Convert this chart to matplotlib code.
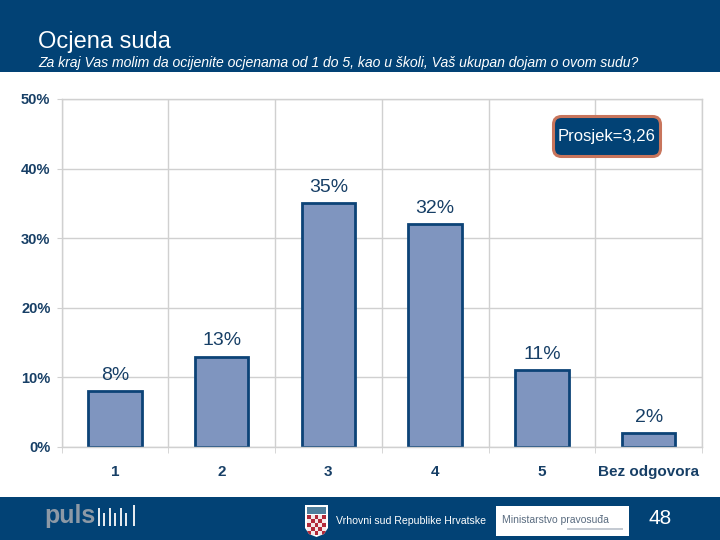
import numpy as np
import matplotlib
matplotlib.use('Agg')
import matplotlib.pyplot as plt
from matplotlib.patches import Rectangle, FancyBboxPatch, Polygon

categories = ['1', '2', '3', '4', '5', 'Bez odgovora']
values = [8, 13, 35, 32, 11, 2]
value_labels = ['8%', '13%', '35%', '32%', '11%', '2%']
yticks = [0, 10, 20, 30, 40, 50]

navy = '#024275'
bar_face = '#7f95bf'
bar_edge = '#0c4377'
text_col = '#173f66'
grid_col = '#d0d0d0'

W, H = 720, 540
plt.rcParams['font.family'] = ['Liberation Sans', 'DejaVu Sans']
fig = plt.figure(figsize=(7.2, 5.4), dpi=100, facecolor='white')

# pozadina za zaglavlje i podnozje, koordinate u pikselima
bg = fig.add_axes([0, 0, 1, 1])
bg.set_xlim(0, W)
bg.set_ylim(H, 0)
bg.axis('off')
bg.add_patch(Rectangle((0, 0), W, 72, fc=navy, ec='none'))
bg.add_patch(Rectangle((0, 497), W, 43, fc=navy, ec='none'))
bg.text(38, 48, 'Ocjena suda', color='white', fontsize=17, va='baseline', ha='left')
bg.text(38, 67, 'Za kraj Vas molim da ocijenite ocjenama od 1 do 5, kao u školi, Vaš ukupan dojam o ovom sudu?',
        color='white', fontsize=10.1, style='italic', va='baseline', ha='left')

# ==============================
# graf
# ==============================
left, right, top, bottom = 61.5, 702, 99, 447
ax = fig.add_axes([left / W, 1 - bottom / H, (right - left) / W, (bottom - top) / H])
x = np.arange(len(categories))
ax.bar(x, values, width=0.5, color=bar_face, edgecolor=bar_edge, linewidth=2, zorder=2)
ax.set_xlim(-0.5, 5.5)
ax.set_ylim(0, 50)
ax.set_yticks(yticks)
ax.set_yticklabels([f'{t}%' for t in yticks], fontsize=10.5, fontweight='bold', color=text_col)
ax.set_xticks(x)
ax.set_xticklabels(categories, fontsize=11, fontweight='bold', color=text_col)
ax.set_xticks(np.arange(-0.5, 6), minor=True)
ax.tick_params(axis='x', which='major', length=0, pad=13)
ax.tick_params(axis='x', which='minor', length=4.5, color=grid_col)
ax.tick_params(axis='y', length=3.5, color=grid_col, pad=4.5)
ax.set_axisbelow(True)
ax.grid(True, axis='y', color=grid_col, linewidth=1)
ax.grid(True, axis='x', which='minor', color=grid_col, linewidth=1)
for s in ax.spines.values():
    s.set_color(grid_col)
    s.set_linewidth(1)
for xi, v, lab in zip(x, values, value_labels):
    ax.text(xi, v + 2.3, lab, ha='center', va='center', fontsize=14, color=text_col, zorder=4)

# okvir s prosjekom i podnozje idu iznad grafa
fg = fig.add_axes([0, 0, 1, 1], facecolor='none')
fg.set_xlim(0, W)
fg.set_ylim(H, 0)
fg.axis('off')
fg.add_patch(FancyBboxPatch((553.5, 116.5), 107, 40, boxstyle='round,pad=0,rounding_size=8',
                            fc=navy, ec='#c8755c', lw=2.2))
fg.text(607, 137, 'Prosjek=3,26', color='white', fontsize=12, ha='center', va='center')

# podnozje: puls
fg.text(44, 523, 'puls', color='#8d99a6', fontsize=18, fontweight='bold', ha='left', va='baseline')
for bx, by in zip([98, 103, 109, 114, 120, 125, 133], [508, 513, 508, 513, 508, 513, 505]):
    fg.add_patch(Rectangle((bx, by), 2.4, 526 - by, fc='#e4e9ee', ec='none'))

# grb
shield = Polygon([(305, 505), (328, 505), (328, 528), (324, 534), (316.5, 537), (309, 534), (305, 528)],
                 fc='white', ec='none')
fg.add_patch(shield)
fg.add_patch(Rectangle((307, 507), 19, 7, fc='#4f7f9c', ec='none'))
for i in range(5):
    for j in range(5):
        cell = Rectangle((307 + j * 3.8, 515 + i * 3.9), 3.8, 3.9,
                         fc='#b22a3a' if (i + j) % 2 == 0 else '#f4e9e9', ec='none')
        fg.add_patch(cell)
        cell.set_clip_path(shield)

fg.text(336, 521, 'Vrhovni sud Republike Hrvatske', color='white', fontsize=7.6, ha='left', va='center')

# ministarstvo
fg.add_patch(Rectangle((496, 506), 133, 30, fc='white', ec='none'))
fg.text(502, 520, 'Ministarstvo pravosuđa', color='#5a6c80', fontsize=7.5, ha='left', va='center')
fg.add_patch(Rectangle((567, 527.5), 56, 2, fc='#c4cad2', ec='none'))

fg.text(660, 519, '48', color='white', fontsize=15, ha='center', va='center')

fig.savefig('out.png', dpi=100)
